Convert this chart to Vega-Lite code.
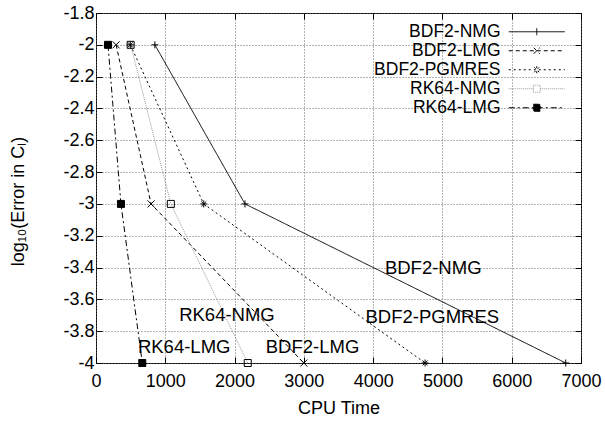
{
  "$schema": "https://vega.github.io/schema/vega-lite/v6.json",
  "width": 485,
  "height": 350,
  "autosize": "none",
  "padding": {"left": 96, "top": 13, "right": 24, "bottom": 61},
  "config": {
    "font": "Liberation Sans",
    "view": {"stroke": "black", "strokeWidth": 1},
    "legend": {"padding": 0, "rowPadding": 0},
    "axis": {
      "labelFont": "Liberation Sans",
      "labelFontSize": 18,
      "labelColor": "black",
      "titleFont": "Liberation Sans",
      "titleFontSize": 18,
      "titleFontWeight": "normal",
      "titleColor": "black",
      "domain": false,
      "gridColor": "#666",
      "gridDash": [1, 2],
      "gridOpacity": 1,
      "gridWidth": 1,
      "tickColor": "black",
      "tickSize": -6,
      "tickWidth": 1
    }
  },
  "datasets": {
    "curves": [
      {"series": "BDF2-NMG", "time": 850, "err": -2},
      {"series": "BDF2-NMG", "time": 2150, "err": -3},
      {"series": "BDF2-NMG", "time": 6780, "err": -4},
      {"series": "BDF2-LMG", "time": 290, "err": -2},
      {"series": "BDF2-LMG", "time": 795, "err": -3},
      {"series": "BDF2-LMG", "time": 3000, "err": -4},
      {"series": "BDF2-PGMRES", "time": 495, "err": -2},
      {"series": "BDF2-PGMRES", "time": 1555, "err": -3},
      {"series": "BDF2-PGMRES", "time": 4750, "err": -4},
      {"series": "RK64-NMG", "time": 500, "err": -2},
      {"series": "RK64-NMG", "time": 1080, "err": -3},
      {"series": "RK64-NMG", "time": 2190, "err": -4},
      {"series": "RK64-LMG", "time": 173, "err": -2},
      {"series": "RK64-LMG", "time": 360, "err": -3},
      {"series": "RK64-LMG", "time": 668, "err": -4}
    ],
    "labels": [
      {"label": "BDF2-NMG", "x": 4170, "y": -3.4},
      {"label": "BDF2-PGMRES", "x": 3890, "y": -3.71},
      {"label": "RK64-NMG", "x": 1200, "y": -3.7},
      {"label": "RK64-LMG", "x": 605, "y": -3.9},
      {"label": "BDF2-LMG", "x": 2450, "y": -3.9}
    ]
  },
  "layer": [
    {
      "data": {"name": "curves"},
      "mark": {"type": "line", "strokeWidth": 1},
      "encoding": {
        "x": {
          "field": "time", "type": "quantitative",
          "scale": {"domain": [0, 7000], "nice": false},
          "axis": {"values": [0, 1000, 2000, 3000, 4000, 5000, 6000, 7000], "labelExpr": "'' + datum.value", "title": "CPU Time", "grid": true, "labelPadding": 15, "titlePadding": 9, "labelFlush": false}
        },
        "y": {
          "field": "err", "type": "quantitative",
          "scale": {"domain": [-4, -1.8], "nice": false, "zero": false},
          "axis": {"values": [-4, -3.8, -3.6, -3.4, -3.2, -3, -2.8, -2.6, -2.4, -2.2, -2, -1.8], "labelExpr": "'' + datum.value", "title": "log₁₀(Error in Cₗ)", "grid": true, "labelPadding": 8, "titlePadding": 35, "titleY": 188, "labelFlush": false}
        },
        "stroke": {
          "field": "series", "type": "nominal",
          "scale": {"domain": ["RK64-NMG", "BDF2-NMG", "BDF2-LMG", "BDF2-PGMRES", "RK64-LMG"], "range": ["#999999", "black", "black", "black", "black"]},
          "legend": null
        },
        "strokeDash": {
          "field": "series", "type": "nominal",
          "scale": {"domain": ["BDF2-NMG", "BDF2-LMG", "BDF2-PGMRES", "RK64-NMG", "RK64-LMG"], "range": [[1, 0], [4, 3], [2, 3], [1, 1], [6, 3, 2, 3]]},
          "legend": {
            "title": null,
            "orient": "none",
            "legendX": 432,
            "legendY": 10,
            "labelFont": "Liberation Sans",
            "labelFontSize": 17.5,
            "labelColor": "black",
            "labelAlign": "right",
            "labelOffset": -45,
            "labelLimit": 300,
            "symbolSize": 100,
            "encoding": {
              "symbols": {
                "shape": {"value": {"expr": "datum.value === 'BDF2-NMG' ? 'M-5.6,0L5.6,0M0,-0.7L0,0.7' : datum.value === 'BDF2-LMG' ? 'M-5.6,0L5.6,0M-0.6,-0.6L0.6,0.6M-0.6,0.6L0.6,-0.6' : datum.value === 'BDF2-PGMRES' ? 'M-5.6,0L5.6,0M0,-0.7L0,0.7M-0.5,-0.5L0.5,0.5M-0.5,0.5L0.5,-0.5' : datum.value === 'RK64-NMG' ? 'M-5.6,0L-0.7,0M0.7,0L5.6,0M-0.7,-0.7L0.7,-0.7L0.7,0.7L-0.7,0.7Z' : 'M-5.6,0L5.6,0M-0.7,-0.7L0.7,-0.7L0.7,0.7L-0.7,0.7Z'"}},
                "stroke": {"value": {"expr": "datum.value === 'RK64-NMG' ? '#999999' : 'black'"}},
                "fill": {"value": {"expr": "datum.value === 'RK64-LMG' ? 'black' : 'transparent'"}},
                "strokeWidth": {"value": 1},
                "opacity": {"value": 1}
              }
            }
          }
        }
      }
    },
    {
      "data": {"name": "curves"},
      "mark": {"type": "point", "size": 49, "strokeWidth": 1, "opacity": 1, "stroke": "black", "filled": false},
      "encoding": {
        "x": {"field": "time", "type": "quantitative", "axis": null},
        "y": {"field": "err", "type": "quantitative", "axis": null},
        "shape": {
          "field": "series", "type": "nominal",
          "scale": {"domain": ["BDF2-LMG", "BDF2-NMG", "BDF2-PGMRES", "RK64-NMG", "RK64-LMG"], "range": ["M-1,-1L1,1M-1,1L1,-1", "M-1,0L1,0M0,-1L0,1", "M-1,0L1,0M0,-1L0,1M-0.7,-0.7L0.7,0.7M-0.7,0.7L0.7,-0.7", "square", "square"]},
          "legend": null
        },
        "fill": {
          "field": "series", "type": "nominal",
          "scale": {"domain": ["RK64-LMG", "BDF2-NMG", "BDF2-LMG", "BDF2-PGMRES", "RK64-NMG"], "range": ["black", "transparent", "transparent", "transparent", "transparent"]},
          "legend": null
        }
      }
    },
    {
      "data": {"name": "labels"},
      "mark": {"type": "text", "align": "left", "baseline": "middle", "fontSize": 18.5, "font": "Liberation Sans", "color": "black"},
      "encoding": {
        "x": {"field": "x", "type": "quantitative", "axis": {"orient": "top", "labels": false, "title": null, "grid": false, "values": [0, 1000, 2000, 3000, 4000, 5000, 6000, 7000]}},
        "y": {"field": "y", "type": "quantitative", "axis": {"orient": "right", "labels": false, "title": null, "grid": false, "values": [-4, -3.8, -3.6, -3.4, -3.2, -3, -2.8, -2.6, -2.4, -2.2, -2, -1.8]}},
        "text": {"field": "label"}
      }
    }
  ],
  "resolve": {"axis": {"x": "independent", "y": "independent"}}
}
